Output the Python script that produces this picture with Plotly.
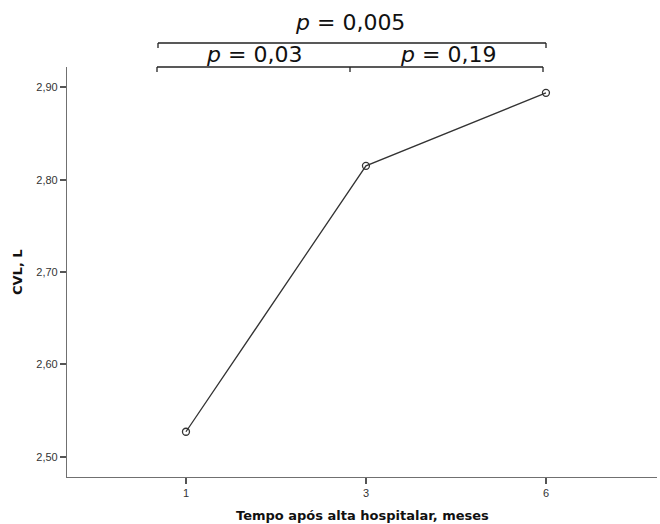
import plotly.graph_objects as go

# CVL over time after hospital discharge
months = ["1", "3", "6"]
cvl = [2.527, 2.815, 2.894]

y_ticks = [2.50, 2.60, 2.70, 2.80, 2.90]

# p-values of the pairwise comparisons
p_overall = "0,005"
p_1_3 = "0,03"
p_3_6 = "0,19"

W, H = 660, 524
ML, MR, MT, MB = 67, 3, 67, 47
PW, PH = W - ML - MR, H - MT - MB


def px_x(px):
    return (px - ML) / PW


def px_y(py):
    return (H - MB - py) / PH


fig = go.Figure()
fig.add_trace(go.Scatter(
    x=months, y=cvl, mode="lines+markers",
    line=dict(color="#333333", width=1.3),
    marker=dict(symbol="circle-open", size=7, color="#333333",
                line=dict(width=1.3, color="#333333")),
    showlegend=False, hoverinfo="x+y",
))

ink = "#222222"
shapes = []
# upper bracket (1 vs 6)
yu, yu2 = px_y(43), px_y(48)
xa, xb = px_x(158), px_x(546)
shapes += [
    dict(type="line", xref="paper", yref="paper", x0=xa, x1=xb, y0=yu, y1=yu),
    dict(type="line", xref="paper", yref="paper", x0=xa, x1=xa, y0=yu, y1=yu2),
    dict(type="line", xref="paper", yref="paper", x0=xb, x1=xb, y0=yu, y1=yu2),
]
# lower bracket (1 vs 3, 3 vs 6)
yl, yl2 = px_y(67), px_y(72)
xc, xm, xd = px_x(157), px_x(350), px_x(543)
shapes += [
    dict(type="line", xref="paper", yref="paper", x0=xc, x1=xd, y0=yl, y1=yl),
    dict(type="line", xref="paper", yref="paper", x0=xc, x1=xc, y0=yl, y1=yl2),
    dict(type="line", xref="paper", yref="paper", x0=xm, x1=xm, y0=yl, y1=yl2),
    dict(type="line", xref="paper", yref="paper", x0=xd, x1=xd, y0=yl, y1=yl2),
]
for s in shapes:
    s["line"] = dict(color=ink, width=1.3)
    s["layer"] = "above"

pfont = dict(family="DejaVu Sans, Liberation Sans, Arial", size=22, color="#111111")
annotations = [
    dict(text=f"<i>p</i> = {p_overall}", x=px_x(350), y=px_y(23)),
    dict(text=f"<i>p</i> = {p_1_3}", x=px_x(254), y=px_y(55)),
    dict(text=f"<i>p</i> = {p_3_6}", x=px_x(448), y=px_y(55)),
]
for a in annotations:
    a.update(xref="paper", yref="paper", showarrow=False,
             xanchor="center", yanchor="middle", font=pfont)

# axis titles
title_font = dict(family="DejaVu Sans, Liberation Sans, Arial", size=13, color="#111111")
annotations.append(dict(
    text="<b>Tempo após alta hospitalar, meses</b>", xref="paper", yref="paper",
    x=0.5, y=px_y(515), xanchor="center", yanchor="middle", showarrow=False,
    font=title_font,
))
annotations.append(dict(
    text="<b>CVL, L</b>", xref="paper", yref="paper", textangle=-90,
    x=px_x(17), y=0.5, xanchor="center", yanchor="middle", showarrow=False,
    font=title_font,
))

fig.update_layout(
    width=W, height=H,
    margin=dict(l=ML, r=MR, t=MT, b=MB, pad=0),
    paper_bgcolor="white", plot_bgcolor="white",
    separators=",.",
    shapes=shapes, annotations=annotations,
    font=dict(family="Liberation Sans, Arial", color="#333333"),
)
fig.update_xaxes(
    type="category", range=[-0.661, 2.617],
    showgrid=False, zeroline=False,
    showline=True, linecolor="#707070", linewidth=1.2,
    ticks="outside", ticklen=6, tickwidth=1.5, tickcolor="#555555",
    tickfont=dict(size=11, color="#333333"),
)
fig.update_yaxes(
    range=[2.478, 2.922], tickvals=y_ticks, tickformat=".2f",
    showgrid=False, zeroline=False,
    showline=True, linecolor="#707070", linewidth=1.2,
    ticks="outside", ticklen=6, tickwidth=1.5, tickcolor="#555555",
    tickfont=dict(size=11, color="#333333"),
)

fig.write_html("out.html")
